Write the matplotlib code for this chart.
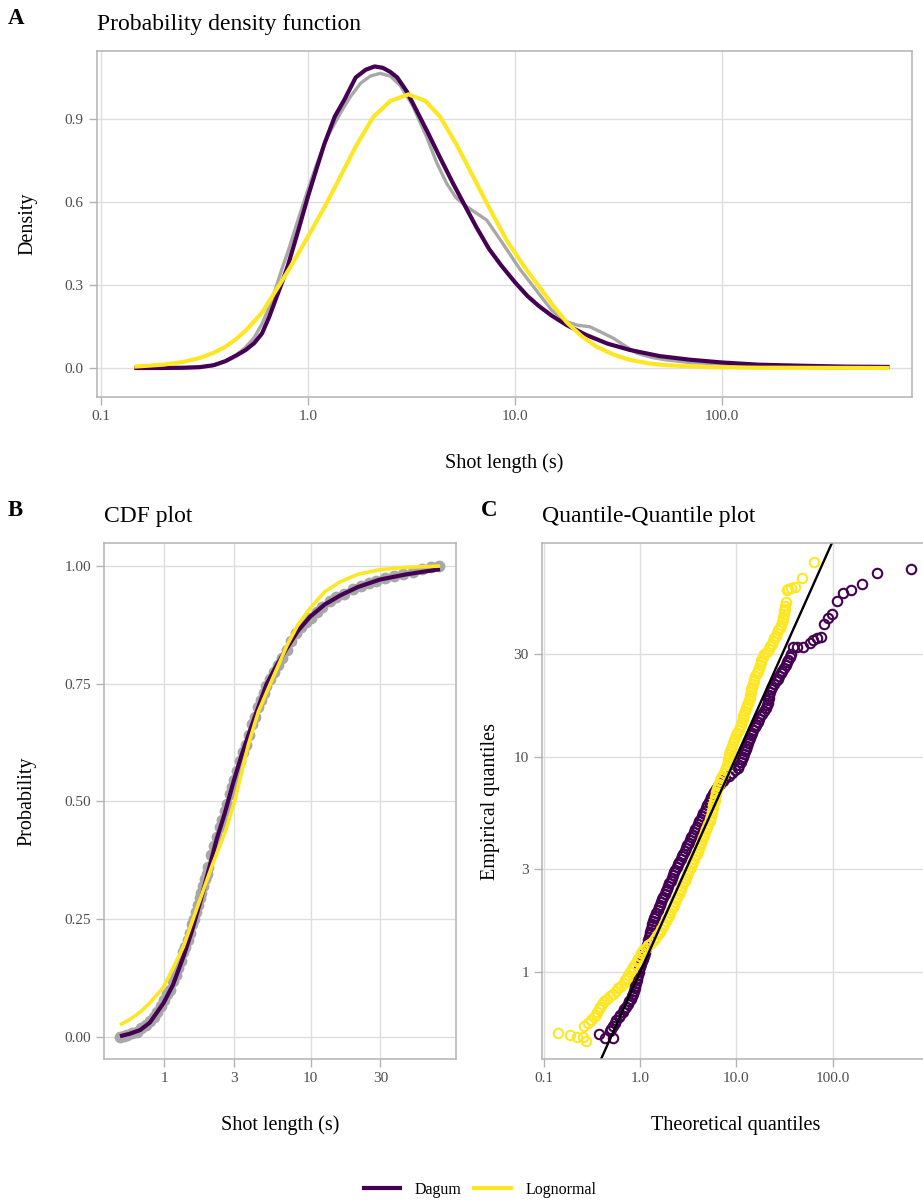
import matplotlib
matplotlib.use("Agg")
import matplotlib.pyplot as plt
from matplotlib.lines import Line2D

plt.rcParams['font.family'] = ['Liberation Serif', 'DejaVu Serif']

PURPLE = '#440154'
YELLOW = '#FDE725'
GREY = '#A8A8A8'

# ---- A: densities (x in seconds) ----
kde_x = [0.145, 0.25, 0.3, 0.35, 0.4, 0.45, 0.5, 0.55, 0.6, 0.65, 0.7, 0.75, 0.8, 0.9, 1.0, 1.1,
         1.25, 1.43, 1.6, 1.8, 2.0, 2.23, 2.5, 2.8, 3.2, 3.74, 4.2, 4.68, 5.2, 5.85, 6.5, 7.3,
         8.2, 9.1, 10.5, 12.7, 15, 17.8, 20, 23, 26, 30, 34, 39, 46, 54, 70, 100, 250, 646]
kde_y = [0.0, 0.001, 0.003, 0.01, 0.024, 0.047, 0.075, 0.11, 0.16, 0.22, 0.29, 0.36, 0.42, 0.54, 0.645, 0.735,
         0.84, 0.92, 0.98, 1.03, 1.055, 1.065, 1.055, 1.02, 0.95, 0.836, 0.74, 0.667, 0.615, 0.583, 0.56, 0.535,
         0.48, 0.43, 0.36, 0.28, 0.21, 0.167, 0.155, 0.149, 0.13, 0.107, 0.08, 0.053, 0.038, 0.029, 0.02, 0.014, 0.006, 0.002]

dagum_x = [0.145, 0.2, 0.25, 0.3, 0.35, 0.4, 0.45, 0.5, 0.55, 0.6, 0.65, 0.7, 0.75, 0.8, 0.9, 1.0, 1.1,
           1.2, 1.35, 1.5, 1.7, 1.9, 2.1, 2.3, 2.5, 2.7, 3.0, 3.35, 3.8, 4.35, 5.0, 5.7, 6.5,
           7.5, 8.6, 10, 11.5, 13, 15, 17.8, 22, 28, 36, 50, 70, 100, 150, 250, 400, 646]
dagum_y = [0.0, 0.0, 0.001, 0.003, 0.01, 0.025, 0.045, 0.065, 0.09, 0.125, 0.185, 0.25, 0.31, 0.37, 0.50, 0.62, 0.72,
           0.81, 0.91, 0.97, 1.05, 1.078, 1.09, 1.085, 1.07, 1.05, 1.0, 0.93, 0.85, 0.76, 0.67, 0.59, 0.51,
           0.43, 0.37, 0.31, 0.26, 0.225, 0.19, 0.155, 0.12, 0.088, 0.065, 0.043, 0.03, 0.02, 0.012, 0.008, 0.005, 0.004]

lnorm_x = [0.145, 0.2, 0.25, 0.3, 0.35, 0.4, 0.45, 0.5, 0.6, 0.7, 0.8, 0.9, 1.0, 1.2, 1.43, 1.7,
           2.07, 2.5, 3.06, 3.7, 4.35, 5.2, 6.3, 7.5, 9.1, 11, 13.2, 15.5, 17.8, 21, 24.8, 30,
           36, 44, 52, 70, 91, 150, 646]
lnorm_y = [0.005, 0.012, 0.022, 0.036, 0.055, 0.077, 0.105, 0.135, 0.2, 0.28, 0.35, 0.415, 0.475, 0.58, 0.69, 0.80,
           0.908, 0.965, 0.989, 0.965, 0.908, 0.81, 0.69, 0.58, 0.463, 0.37, 0.29, 0.22, 0.165, 0.115, 0.077, 0.048,
           0.029, 0.017, 0.011, 0.006, 0.003, 0.001, 0.0]

# ---- B: CDFs ----
ecdf_x = [0.5, 0.53, 0.56, 0.6, 0.65, 0.7, 0.75, 0.8, 0.85, 0.9, 0.95, 1.0, 1.05, 1.1, 1.15, 1.2,
          1.25, 1.3, 1.35, 1.4, 1.45, 1.5, 1.55, 1.6, 1.65, 1.7, 1.75, 1.8, 1.85, 1.9, 1.95, 2.0,
          2.1, 2.2, 2.3, 2.4, 2.5, 2.6, 2.7, 2.8, 2.9, 3.0, 3.15, 3.3, 3.45, 3.6, 3.8, 4.0,
          4.2, 4.4, 4.6, 4.8, 5.0, 5.3, 5.6, 6.0, 6.4, 6.9, 7.4, 8.0, 8.6, 9.3, 10, 11,
          12, 13.5, 15, 17, 19.5, 22, 25, 28, 32, 37, 43, 50, 58, 66, 75]
ecdf_p = [0.0, 0.002, 0.004, 0.007, 0.011, 0.018, 0.024, 0.033, 0.042, 0.053, 0.065, 0.078, 0.09, 0.10, 0.118, 0.13,
          0.145, 0.16, 0.18, 0.19, 0.205, 0.22, 0.24, 0.25, 0.265, 0.28, 0.295, 0.305, 0.32, 0.335, 0.345, 0.36,
          0.385, 0.405, 0.425, 0.445, 0.46, 0.48, 0.495, 0.515, 0.53, 0.545, 0.565, 0.585, 0.605, 0.62, 0.64, 0.665,
          0.68, 0.70, 0.715, 0.73, 0.745, 0.76, 0.775, 0.79, 0.805, 0.822, 0.84, 0.857, 0.87, 0.88, 0.89, 0.902,
          0.912, 0.925, 0.933, 0.94, 0.95, 0.957, 0.963, 0.968, 0.974, 0.978, 0.982, 0.988, 0.993, 0.997, 1.0]

dagum_cdf_x = [0.5, 0.58, 0.686, 0.8, 0.99, 1.15, 1.355, 1.55, 1.76, 2.0, 2.29, 2.6, 2.97, 3.4, 3.86,
               4.4, 5.0, 5.9, 6.88, 8.2, 9.93, 12.5, 15.9, 21, 29.8, 45, 76.6]
dagum_cdf_p = [0.001, 0.006, 0.014, 0.03, 0.071, 0.11, 0.17, 0.225, 0.285, 0.35, 0.42, 0.475, 0.54, 0.60, 0.65,
               0.70, 0.748, 0.79, 0.825, 0.862, 0.892, 0.918, 0.937, 0.955, 0.971, 0.982, 0.993]

lnorm_cdf_x = [0.5, 0.58, 0.686, 0.8, 0.99, 1.15, 1.355, 1.5, 1.69, 2.12, 2.65, 3.05, 3.76, 4.4, 5.15,
               6.88, 8.2, 9.93, 12.5, 15.9, 21, 29.8, 45, 76.6]
lnorm_cdf_p = [0.025, 0.036, 0.052, 0.072, 0.105, 0.145, 0.191, 0.23, 0.276, 0.362, 0.44, 0.503, 0.62, 0.69, 0.74,
               0.83, 0.875, 0.91, 0.945, 0.966, 0.982, 0.992, 0.997, 0.9997]

# ---- C: QQ (theoretical, empirical) ----
emp_core = [0.53, 0.545, 0.56, 0.58, 0.60, 0.615, 0.63, 0.65, 0.67, 0.69, 0.71, 0.73, 0.75, 0.77,
            0.79, 0.815, 0.84, 0.865, 0.89, 0.915, 0.94, 0.97, 1.00, 1.03, 1.06, 1.09, 1.12, 1.155,
            1.19, 1.225, 1.26, 1.295, 1.33, 1.37, 1.41, 1.455, 1.50, 1.54, 1.58, 1.63, 1.68, 1.73,
            1.78, 1.83, 1.88, 1.94, 2.00, 2.055, 2.11, 2.175, 2.24, 2.305, 2.37, 2.44, 2.51, 2.585,
            2.66, 2.74, 2.82, 2.905, 2.99, 3.075, 3.16, 3.255, 3.35, 3.45, 3.55, 3.655, 3.76, 3.87,
            3.98, 4.10, 4.22, 4.345, 4.47, 4.60, 4.73, 4.87, 5.01, 5.16, 5.31, 5.465, 5.62, 5.79,
            5.96, 6.135, 6.31, 6.495, 6.68, 6.88, 7.08, 7.29, 7.50, 7.72, 7.94, 8.175, 8.41, 8.66,
            8.91, 9.175, 9.44, 9.72, 10.0, 10.3, 10.6, 10.9, 11.2, 11.55, 11.9, 12.25, 12.6, 12.95,
            13.3, 13.7, 14.1, 14.55, 15.0, 15.4, 15.8, 16.3, 16.8, 17.3, 17.8, 18.3, 18.8, 19.4,
            20.0, 20.55, 21.1, 21.75, 22.4, 23.05, 23.7, 24.4, 25.1, 25.85, 26.6, 27.4, 28.2, 29.05, 29.9]
emp_upper = [30.75, 31.6, 32.55, 33.5, 34.5, 35.5, 36.55, 37.6, 38.7, 39.8, 41.0, 42.2, 43.45,
             44.7, 46.0, 47.3, 48.7, 50.1]

dagum_core = [0.484, 0.504, 0.525, 0.547, 0.569, 0.598, 0.627, 0.658, 0.690, 0.719, 0.748, 0.773,
              0.798, 0.823, 0.849, 0.863, 0.877, 0.891, 0.906, 0.920, 0.935, 0.951, 0.968, 0.984,
              1.0, 1.022, 1.045, 1.068, 1.091, 1.114, 1.138, 1.162, 1.186, 1.205, 1.224, 1.243,
              1.262, 1.282, 1.303, 1.324, 1.346, 1.373, 1.40, 1.439, 1.479, 1.521, 1.563, 1.607,
              1.652, 1.699, 1.746, 1.797, 1.849, 1.904, 1.959, 2.017, 2.075, 2.136, 2.198, 2.263,
              2.328, 2.40, 2.472, 2.554, 2.636, 2.724, 2.812, 2.905, 2.999, 3.099, 3.199, 3.301,
              3.404, 3.517, 3.631, 3.752, 3.873, 4.001, 4.130, 4.268, 4.406, 4.552, 4.699, 4.855,
              5.012, 5.179, 5.346, 5.524, 5.702, 5.891, 6.081, 6.405, 6.730, 7.193, 7.656, 8.388,
              9.12, 9.76, 10.40, 10.74, 11.09, 11.46, 11.83, 12.12, 12.42, 12.72, 13.03, 13.35,
              13.68, 14.01, 14.35, 14.71, 15.07, 15.57, 16.07, 16.60, 17.14, 17.81, 18.49, 19.33,
              20.18, 20.63, 21.09, 21.36, 21.63, 21.90, 22.18, 22.89, 23.6, 24.68, 25.76, 26.81,
              27.86, 28.96, 30.06, 31.24, 32.43, 33.59, 34.75, 35.91, 37.07]
dagum_low_theo = [0.378, 0.433, 0.528]
dagum_low_emp = [0.515, 0.492, 0.492]
dagum_tail_theo = [39.1, 42.4, 49.7, 58.2, 63.1, 68.4, 75.2, 82.0, 90.2, 98.0, 112, 129, 155, 200, 289, 647]
dagum_tail_emp = [32.4, 32.4, 32.4, 33.6, 34.8, 35.5, 36.1, 41.2, 44.0, 46.0, 52.8, 57.8, 59.4, 63.2, 71.6, 74.5]

lnorm_core = [0.260, 0.286, 0.311, 0.330, 0.348, 0.360, 0.372, 0.386, 0.399, 0.425, 0.451, 0.488,
              0.525, 0.561, 0.597, 0.637, 0.676, 0.703, 0.729, 0.759, 0.789, 0.820, 0.851, 0.886,
              0.920, 0.957, 0.994, 1.034, 1.074, 1.147, 1.219, 1.303, 1.387, 1.463, 1.538, 1.597,
              1.656, 1.719, 1.782, 1.851, 1.919, 1.990, 2.061, 2.122, 2.183, 2.248, 2.312, 2.378,
              2.443, 2.516, 2.588, 2.665, 2.742, 2.823, 2.904, 2.990, 3.076, 3.167, 3.258, 3.355,
              3.451, 3.554, 3.656, 3.765, 3.873, 3.974, 4.074, 4.185, 4.295, 4.407, 4.519, 4.636,
              4.753, 4.877, 5.000, 5.136, 5.272, 5.359, 5.445, 5.528, 5.610, 5.689, 5.768, 5.856,
              5.943, 6.026, 6.109, 6.210, 6.310, 6.466, 6.622, 6.786, 6.950, 7.165, 7.379, 7.625,
              7.870, 7.990, 8.110, 8.214, 8.318, 8.425, 8.531, 8.722, 8.913, 9.134, 9.354, 9.643,
              9.931, 10.24, 10.54, 10.83, 11.12, 11.37, 11.61, 11.87, 12.13, 12.41, 12.68, 12.95,
              13.21, 13.49, 13.77, 13.98, 14.19, 14.37, 14.55, 14.85, 15.14, 15.44, 15.74, 16.29,
              16.83, 17.29, 17.74, 17.97, 18.20, 18.83, 19.45, 20.59, 21.73, 22.48, 23.23, 24.00,
              24.77, 25.60, 26.42, 27.40, 28.38, 29.15, 29.92, 30.27, 30.62, 30.98, 31.33, 31.77, 32.21]
lnorm_low_theo = [0.140, 0.187, 0.220, 0.258, 0.275]
lnorm_low_emp = [0.519, 0.509, 0.498, 0.498, 0.480]
lnorm_tail_theo = [32.8, 33.3, 34.7, 36.7, 40.7, 48.4, 64.6]
lnorm_tail_emp = [52.1, 59.4, 60.0, 60.5, 61.2, 67.8, 80.2]

dagum_theo = dagum_low_theo + dagum_core + dagum_tail_theo
dagum_emp = dagum_low_emp + emp_core + dagum_tail_emp
lnorm_theo = lnorm_low_theo + lnorm_core + lnorm_tail_theo
lnorm_emp = lnorm_low_emp + emp_core[2:] + emp_upper + lnorm_tail_emp

W, H = 923, 1200
fig = plt.figure(figsize=(W / 100, H / 100), dpi=100)
fig.patch.set_facecolor('white')


def px_axes(left, top, right, bottom):
    return fig.add_axes([left / W, 1 - bottom / H, (right - left) / W, (bottom - top) / H])


def style(ax):
    for s in ax.spines.values():
        s.set_color('#B3B3B3')
        s.set_linewidth(1.1)
    ax.grid(True, color='#DEDEDE', lw=1.0)
    ax.set_axisbelow(True)
    ax.tick_params(length=5.5, width=1.0, color='#B3B3B3', labelcolor='#4D4D4D',
                   labelsize=11, pad=4)
    ax.minorticks_off()


TITLE = 17
LAB = 14.5

# ---------------- Panel A ----------------
axA = px_axes(97, 51, 912, 397)
axA.set_xscale('log')
axA.plot(kde_x, kde_y, color=GREY, lw=2.4, solid_capstyle='butt', solid_joinstyle='round')
axA.plot(dagum_x, dagum_y, color=PURPLE, lw=3.0, solid_capstyle='butt', solid_joinstyle='round')
axA.plot(lnorm_x, lnorm_y, color=YELLOW, lw=3.0, solid_capstyle='butt', solid_joinstyle='round')
axA.set_xlim(0.0957, 828)
axA.set_ylim(-0.1048, 1.1458)
axA.set_xticks([0.1, 1, 10, 100], ['0.1', '1.0', '10.0', '100.0'])
axA.set_yticks([0.0, 0.3, 0.6, 0.9], ['0.0', '0.3', '0.6', '0.9'])
style(axA)
axA.set_xlabel('Shot length (s)', fontsize=LAB, labelpad=22)
axA.set_ylabel('Density', fontsize=LAB, labelpad=20)
fig.text(97 / W, 1 - 30 / H, 'Probability density function', fontsize=TITLE, va='baseline')
fig.text(8 / W, 1 - 24 / H, 'A', fontsize=16.5, fontweight='bold', va='baseline')

# ---------------- Panel B ----------------
axB = px_axes(104, 543, 456, 1059)
axB.set_xscale('log')
axB.plot(ecdf_x, ecdf_p, 'o', color=GREY, ms=8.5, mew=0)
axB.plot(dagum_cdf_x, dagum_cdf_p, color=PURPLE, lw=3.0, solid_capstyle='butt', solid_joinstyle='round')
axB.plot(lnorm_cdf_x, lnorm_cdf_p, color=YELLOW, lw=2.6, solid_capstyle='butt', solid_joinstyle='round')
axB.set_xlim(0.389, 98.4)
axB.set_ylim(-0.0474, 1.0486)
axB.set_xticks([1, 3, 10, 30], ['1', '3', '10', '30'])
axB.set_yticks([0, 0.25, 0.5, 0.75, 1.0], ['0.00', '0.25', '0.50', '0.75', '1.00'])
style(axB)
axB.set_xlabel('Shot length (s)', fontsize=LAB, labelpad=22)
axB.set_ylabel('Probability', fontsize=LAB, labelpad=20)
fig.text(104 / W, 1 - 522 / H, 'CDF plot', fontsize=TITLE, va='baseline')
fig.text(8 / W, 1 - 516 / H, 'B', fontsize=16.5, fontweight='bold', va='baseline')

# ---------------- Panel C ----------------
axC = px_axes(542, 543, 930, 1059)
axC.set_xscale('log')
axC.set_yscale('log')
axC.plot(dagum_theo, dagum_emp, 'o', mfc='none', mec=PURPLE, ms=6.8, mew=1.5)
axC.plot(lnorm_theo, lnorm_emp, 'o', mfc='none', mec=YELLOW, ms=6.8, mew=1.5)
axC.axline((1, 1), (10, 10), color='black', lw=1.7)
axC.set_xlim(0.096, 1026)
axC.set_ylim(0.3945, 98.3)
axC.set_xticks([0.1, 1, 10, 100], ['0.1', '1.0', '10.0', '100.0'])
axC.set_yticks([1, 3, 10, 30], ['1', '3', '10', '30'])
style(axC)
axC.set_xlabel('Theoretical quantiles', fontsize=LAB, labelpad=22)
axC.set_ylabel('Empirical quantiles', fontsize=LAB, labelpad=10)
fig.text(542 / W, 1 - 522 / H, 'Quantile-Quantile plot', fontsize=TITLE, va='baseline')
fig.text(481 / W, 1 - 516 / H, 'C', fontsize=16.5, fontweight='bold', va='baseline')

# ---------------- Legend ----------------
handles = [Line2D([], [], color=PURPLE, lw=3), Line2D([], [], color=YELLOW, lw=3)]
fig.legend(handles, ['Dagum', 'Lognormal'], loc='center', bbox_to_anchor=(480 / W, 1 - 1190 / H),
           ncol=2, frameon=False, fontsize=11.5, handlelength=2.3, handletextpad=0.9,
           columnspacing=0.8)

fig.savefig('out.png', dpi=100)
